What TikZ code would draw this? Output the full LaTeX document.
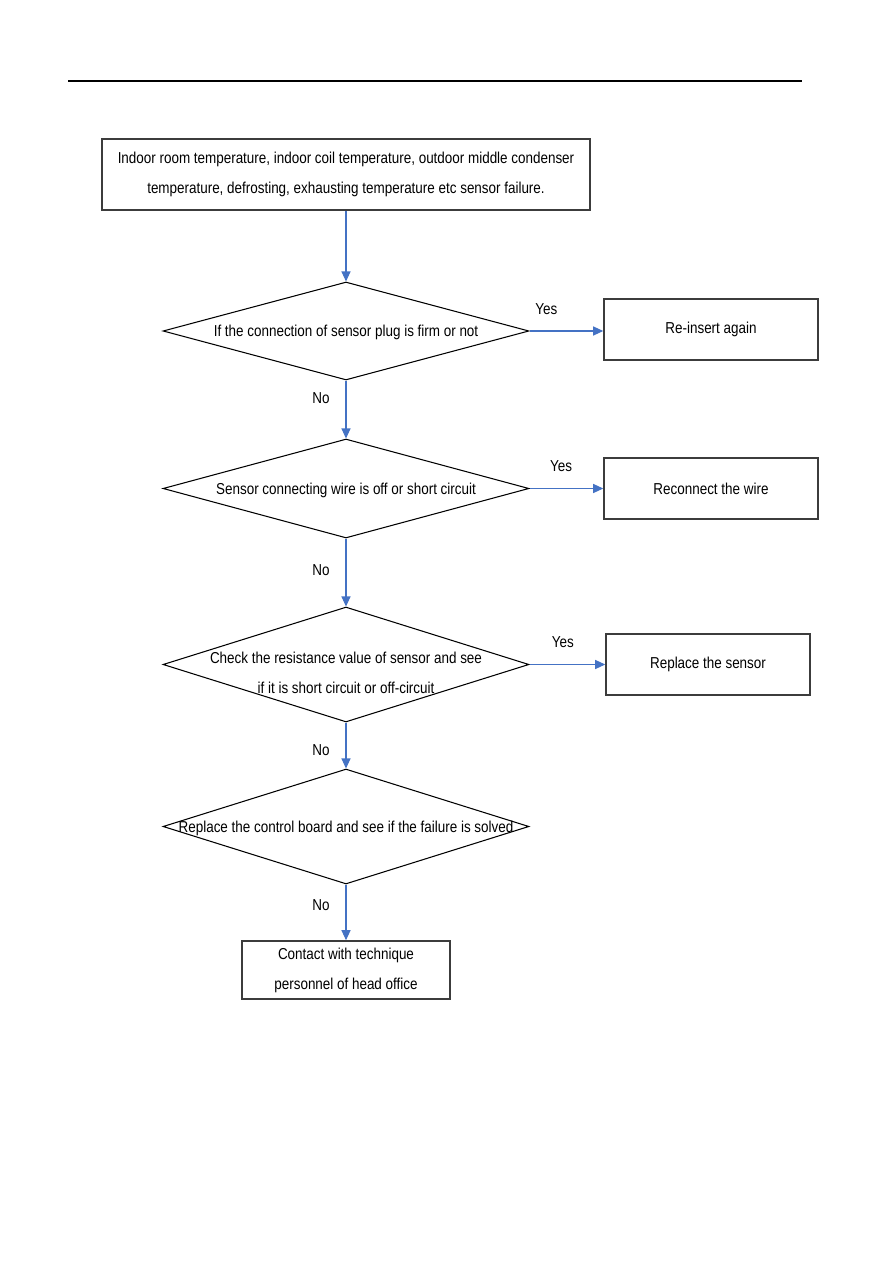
\documentclass[tikz,border=0pt]{standalone}
\usepackage{fontspec}
\setmainfont[FakeStretch=0.85]{Liberation Sans}
\usetikzlibrary{shapes.geometric,arrows.meta}
\definecolor{flowblue}{RGB}{68,114,196}
\definecolor{boxgray}{RGB}{60,60,60}
\newcommand{\dtxt}[1]{\makebox[0pt]{\begin{tabular}{@{}c@{}}#1\end{tabular}}}

\begin{document}
\begin{tikzpicture}[x=0.02cm,y=-0.02cm,font=\fontsize{9pt}{17pt}\selectfont,
  stepbox/.style={draw=boxgray,line width=0.9pt,align=center,inner sep=0pt},
  check/.style={diamond,draw,line width=0.6pt,inner sep=0pt,minimum width=7.32cm},
  flow/.style={flowblue,line width=0.6pt,-{Triangle[length=0.2cm,width=0.18cm]}},
  yes/.style={text=black,anchor=center,yshift=0.44cm},
  no/.style={text=black,anchor=center,xshift=-0.5cm}]
  \useasboundingbox (0,0) rectangle (893,1263);
  \draw[line width=0.7pt] (68,81) -- (802,81);

  \node[stepbox,minimum width=9.76cm,minimum height=1.42cm] (top) at (346,174.5)
    {Indoor room temperature, indoor coil temperature, outdoor middle condenser\\
     temperature, defrosting, exhausting temperature etc sensor failure.};

  \node[check,minimum height=1.96cm] (d1) at (346,331)
    {\dtxt{If the connection of sensor plug is firm or not}};
  \node[check,minimum height=1.98cm] (d2) at (346,488.5)
    {\dtxt{Sensor connecting wire is off or short circuit}};
  \node[check,minimum height=2.3cm] (d3) at (346,664.5)
    {\dtxt{\rule{0pt}{0.74cm}Check the resistance value of sensor and see\\if it is short circuit or off-circuit}};
  \node[check,minimum height=2.3cm] (d4) at (346,826.5)
    {\dtxt{Replace the control board and see if the failure is solved}};

  \node[stepbox,minimum width=4.28cm,minimum height=1.22cm] (b1) at (711,329.5) {Re-insert again};
  \node[stepbox,minimum width=4.28cm,minimum height=1.22cm] (b2) at (711,488.5) {Reconnect the wire};
  \node[stepbox,minimum width=4.08cm,minimum height=1.22cm] (b3) at (708,664.5) {Replace the sensor};
  \node[stepbox,minimum width=4.16cm,minimum height=1.16cm] (b4) at (346,970)
    {Contact with technique\\personnel of head office};

  \draw[flow] (top.south) -- (d1.north);
  \draw[flow] (d1.south) -- node[no,pos=0.3] (n1) {No} (d2.north);
  \draw[flow] (d2.south) -- node[no,pos=0.46] (n2) {No} (d3.north);
  \draw[flow] (d3.south) -- node[no,pos=0.6] (n3) {No} (d4.north);
  \draw[flow] (d4.south) -- node[no,pos=0.37] (n4) {No} (b4.north);

  \draw[flow] (d1.east) -- node[yes,pos=0.23] (y1) {Yes} (d1.east -| b1.west);
  \draw[flow] (d2.east) -- node[yes,pos=0.43] (y2) {Yes} (d2.east -| b2.west);
  \draw[flow] (d3.east) -- node[yes,pos=0.44] (y3) {Yes} (d3.east -| b3.west);
\end{tikzpicture}
\end{document}
